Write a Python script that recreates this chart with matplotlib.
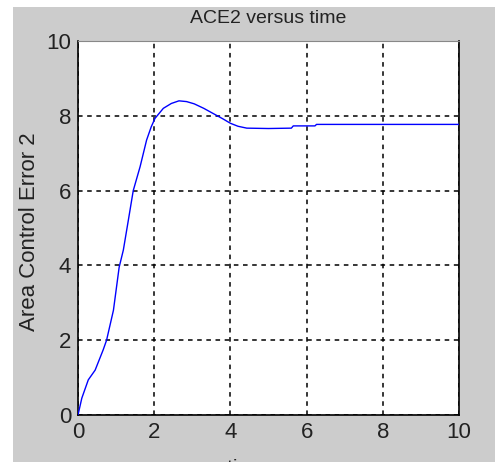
import matplotlib
matplotlib.use("Agg")
import matplotlib.pyplot as plt
from matplotlib.patches import Rectangle

# ---------------------------------------------------------------------------
# Data (ACE2 step response)
# ---------------------------------------------------------------------------
time_s = [0, 0.1, 0.27, 0.45, 0.66, 0.75, 0.93, 1.08, 1.19, 1.32, 1.45, 1.63,
          1.80, 1.92, 2.02, 2.24, 2.45, 2.65, 2.85, 3.05, 3.30, 3.55, 3.80,
          4.00, 4.20, 4.43, 5.00, 5.60, 5.65, 6.22, 6.26, 7.0, 8.0, 9.0, 10.0]
ace2 = [0, 0.45, 0.94, 1.2, 1.74, 2.0, 2.8, 3.95, 4.41, 5.2, 6.0, 6.64,
        7.35, 7.7, 7.93, 8.2, 8.33, 8.40, 8.38, 8.32, 8.2, 8.06, 7.92,
        7.80, 7.72, 7.67, 7.66, 7.67, 7.73, 7.73, 7.77, 7.77, 7.77, 7.77, 7.77]
x_ticks = [0, 2, 4, 6, 8, 10]
y_ticks = [0, 2, 4, 6, 8, 10]

W, H = 495, 462
BG = "#cccccc"
INK = "#222222"

plt.rcParams.update({"font.family": ["Liberation Sans", "DejaVu Sans"]})

fig = plt.figure(figsize=(W / 100, H / 100), dpi=100, facecolor=BG)
ax = fig.add_axes([78 / W, 1 - 415 / H, (459 - 78) / W, (415 - 41) / H])
ax.set_facecolor("white")

ax.plot(time_s, ace2, color="#0000ff", linewidth=1.0, zorder=3)

ax.set_xlim(0, 10)
ax.set_ylim(0, 10)
ax.set_xticks(x_ticks)
ax.set_yticks(y_ticks)
ax.tick_params(direction="in", length=0, labelsize=16, pad=5, colors=INK)

ax.grid(True, color="black", linestyle=(0, (3, 3)), linewidth=1.1, zorder=2)
for side in ["left", "bottom", "right"]:
    ax.spines[side].set_color("black")
    ax.spines[side].set_linewidth(1.2)
ax.spines["top"].set_color("#888888")
ax.spines["top"].set_linewidth(0.8)

ax.set_title("ACE2 versus time", fontsize=14, pad=13, color=INK)
ax.set_ylabel("Area Control Error 2", fontsize=16, color=INK, va="center")
ax.yaxis.set_label_coords(-0.128, 0.49)
ax.set_xlabel("time, sec", fontsize=15, color=INK, va="top")
ax.xaxis.set_label_coords(0.5, -0.115)

# white margins of the original screenshot
fig.patches.append(Rectangle((0, 0), 13 / W, 1, transform=fig.transFigure,
                             facecolor="white", edgecolor="none", zorder=10))
fig.patches.append(Rectangle((0, 1 - 7 / H), 1, 7 / H, transform=fig.transFigure,
                             facecolor="white", edgecolor="none", zorder=10))

fig.savefig("out.png", dpi=100, facecolor=BG)
